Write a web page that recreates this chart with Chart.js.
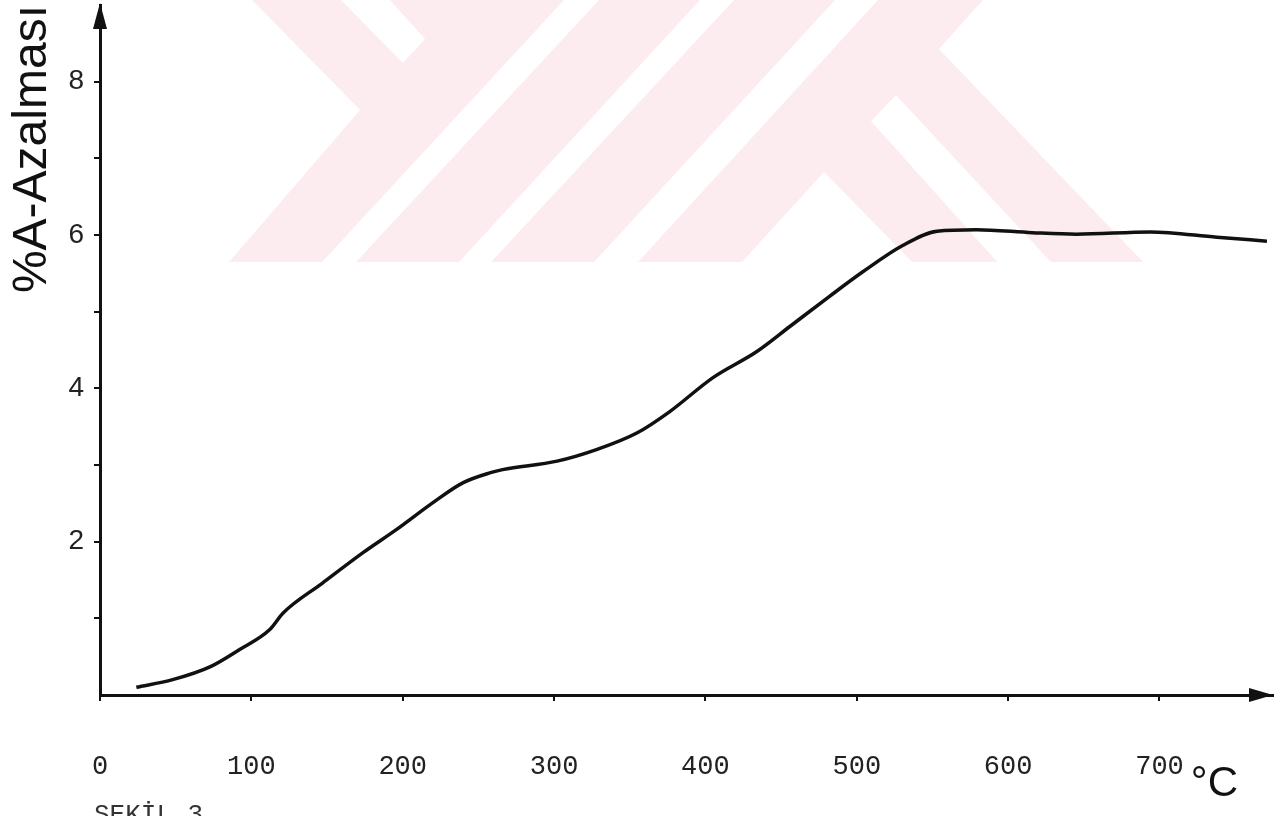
<!DOCTYPE html>
<html>
<head>
<meta charset="utf-8">
<title>%A-Azalması</title>
<script src="https://cdn.jsdelivr.net/npm/chart.js"></script>
<style>
  html, body { margin: 0; padding: 0; background: #fff; overflow: hidden; }
  #wrap { position: relative; width: 1275px; height: 816px; overflow: hidden; }
  #caption {
    position: absolute; left: 94px; top: 800px;
    font-family: "Liberation Mono", monospace; font-size: 26px; color: #333;
    white-space: nowrap;
  }
</style>
</head>
<body>
<div id="wrap">
  <canvas id="grafik" width="1275" height="816"></canvas>
  <div id="caption">ŞEKİL 3.</div>
</div>
<script>
// sicaklik (°C) ve % azalma degerleri
const sicaklik = [24, 48, 73, 92, 112, 121, 147, 174, 196, 220, 240, 258, 266, 302, 328,
                  355, 376, 405, 434, 456, 482, 504, 530, 553, 579, 616, 645, 694, 738, 771];
const azalma = [0.10, 0.20, 0.37, 0.59, 0.85, 1.07, 1.46, 1.86, 2.16, 2.51, 2.77, 2.90, 2.94, 3.05, 3.20,
                3.42, 3.69, 4.14, 4.48, 4.81, 5.20, 5.52, 5.86, 6.05, 6.07, 6.03, 6.01, 6.04, 5.97, 5.92];

// eksen etiketleri
const xEtiketler = [0, 100, 200, 300, 400, 500, 600, 700];
const yEtiketler = [2, 4, 6, 8];

const noktalar = sicaklik.map((t, i) => ({ x: t, y: azalma[i] }));

// arka plandaki soluk filigran
const filigran = {
  id: 'filigran',
  beforeDraw(chart) {
    const ctx = chart.ctx;
    ctx.save();
    ctx.beginPath();
    ctx.rect(0, 0, chart.width, 262);
    ctx.clip();
    const poly = (pts, renk) => {
      ctx.beginPath();
      ctx.moveTo(pts[0][0], pts[0][1]);
      for (let i = 1; i < pts.length; i++) ctx.lineTo(pts[i][0], pts[i][1]);
      ctx.closePath();
      ctx.fillStyle = renk;
      ctx.fill();
    };
    const pembe = '#fdecef';
    poly([[252, 0], [983, 0], [939, 49], [1170, 290], [205, 290], [360, 110]], pembe);
    poly([[341, 0], [390, 0], [425, 39], [403, 63]], '#fff');
    poly([[564, 0], [599, 0], [345, 274], [311, 274]], '#fff');
    poly([[700, 0], [734, 0], [480, 274], [448, 274]], '#fff');
    poly([[835, 0], [878, 0], [627, 274], [583, 274]], '#fff');
    poly([[871, 121], [896, 95], [1062, 274], [1008, 274]], '#fff');
    poly([[731, 274], [824, 172], [924, 274]], '#fff');
    ctx.restore();
  }
};

// eksen uclarindaki oklar
const oklar = {
  id: 'oklar',
  afterDraw(chart) {
    const ctx = chart.ctx;
    const a = chart.chartArea;
    ctx.save();
    ctx.fillStyle = '#111';
    ctx.beginPath();
    ctx.moveTo(a.right, a.bottom);
    ctx.lineTo(a.right - 24, a.bottom - 7);
    ctx.lineTo(a.right - 24, a.bottom + 7);
    ctx.closePath();
    ctx.fill();
    ctx.beginPath();
    ctx.moveTo(a.left, a.top - 2);
    ctx.lineTo(a.left - 7, a.top + 24);
    ctx.lineTo(a.left + 7, a.top + 24);
    ctx.closePath();
    ctx.fill();
    ctx.restore();
  }
};

const config = {
  type: 'line',
  data: {
    datasets: [{
      data: noktalar,
      borderColor: '#111',
      borderWidth: 3.5,
      pointRadius: 0,
      fill: false,
      cubicInterpolationMode: 'monotone'
    }]
  },
  options: {
    responsive: false,
    animation: false,
    layout: { padding: { top: 5, right: 2, left: 0, bottom: 0 } },
    plugins: { legend: { display: false }, tooltip: { enabled: false } },
    scales: {
      x: {
        type: 'linear',
        min: 0,
        max: 775,
        afterBuildTicks: s => { s.ticks = xEtiketler.map(v => ({ value: v })); },
        afterFit: s => { s.height = 121; s.paddingLeft = 0; s.paddingRight = 0; },
        border: { display: true, color: '#111', width: 3 },
        grid: { drawOnChartArea: false, color: '#111', lineWidth: 2, tickLength: 6 },
        ticks: {
          padding: 50,
          color: '#222',
          font: { family: 'Liberation Mono', size: 27 },
          callback: v => v
        },
        title: {
          display: true,
          text: '°C   ',
          align: 'end',
          color: '#111',
          font: { family: 'Liberation Sans', size: 42 },
          padding: { top: 0, bottom: 6 }
        }
      },
      y: {
        min: 0,
        max: 9,
        afterBuildTicks: s => {
          const t = [];
          for (let v = 1; v <= 8; v++) t.push({ value: v });
          s.ticks = t;
        },
        afterFit: s => { s.width = 100; s.paddingTop = 0; s.paddingBottom = 0; },
        border: { display: true, color: '#111', width: 3 },
        grid: { drawOnChartArea: false, color: '#111', lineWidth: 2, tickLength: 6 },
        ticks: {
          padding: 10,
          color: '#222',
          font: { family: 'Liberation Sans', size: 28 },
          callback: v => yEtiketler.includes(v) ? v : ''
        },
        title: {
          display: true,
          text: '%A-Azalması',
          align: 'end',
          color: '#111',
          font: { family: 'Liberation Sans', size: 48 },
          padding: { top: 4, bottom: 0 }
        }
      }
    }
  },
  plugins: [filigran, oklar]
};

window.onload = () => {
  const ctx = document.querySelector('#grafik').getContext('2d');
  const grafik = new Chart(ctx, config);
};
</script>
</body>
</html>
